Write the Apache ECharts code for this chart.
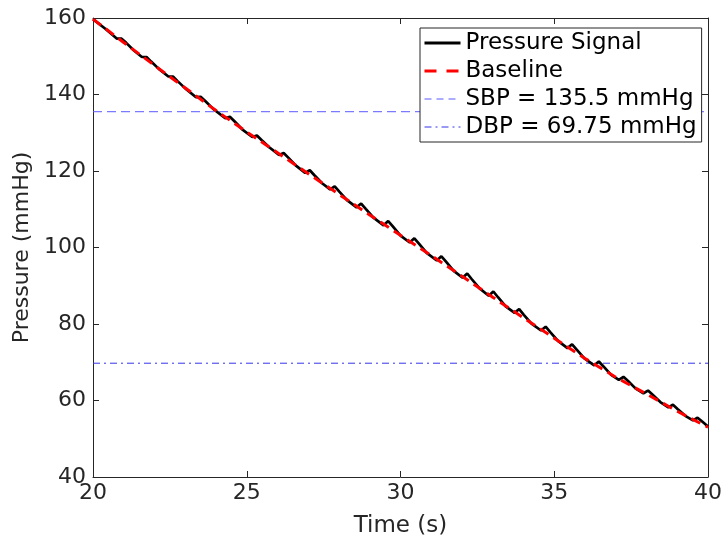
<!DOCTYPE html>
<html><head><meta charset="utf-8">
<script src="https://cdn.jsdelivr.net/npm/echarts@6/dist/echarts.min.js"></script>
<style>html,body{margin:0;padding:0;background:#fff}#c{width:725px;height:545px}</style>
</head><body><div id="c"></div>
<script>
var sigT = [20.0, 20.4, 20.78, 20.93, 21.08, 21.33, 21.59, 21.74, 21.89, 22.14, 22.45, 22.6, 22.75, 23.0, 23.35, 23.5, 23.65, 23.9, 24.3, 24.45, 24.6, 24.85, 25.18, 25.33, 25.48, 25.73, 26.05, 26.2, 26.35, 26.6, 26.9, 27.05, 27.2, 27.45, 27.71, 27.86, 28.01, 28.26, 28.57, 28.72, 28.87, 29.12, 29.45, 29.6, 29.75, 30.0, 30.3, 30.45, 30.6, 30.85, 31.18, 31.33, 31.48, 31.73, 32.02, 32.17, 32.32, 32.57, 32.87, 33.02, 33.17, 33.42, 33.71, 33.86, 34.01, 34.26, 34.57, 34.72, 34.87, 35.12, 35.43, 35.58, 35.73, 35.98, 36.3, 36.45, 36.6, 36.85, 37.1, 37.25, 37.4, 37.65, 37.9, 38.05, 38.2, 38.45, 38.71, 38.86, 39.01, 39.26, 39.51, 39.66, 39.81, 40.0];
var sigP = [159.7, 157.2, 154.6, 154.6, 153.5, 151.5, 149.8, 149.8, 148.6, 146.7, 144.7, 144.7, 143.5, 141.6, 139.3, 139.4, 138.3, 136.3, 133.8, 134.2, 133.0, 130.9, 128.9, 129.3, 128.1, 126.2, 124.2, 124.7, 123.5, 121.4, 119.5, 120.2, 118.9, 116.8, 115.2, 116.0, 114.6, 112.4, 110.5, 111.5, 110.1, 107.8, 105.8, 106.9, 105.5, 103.1, 101.3, 102.4, 101.0, 98.6, 96.6, 97.7, 96.3, 93.9, 92.1, 93.2, 91.7, 89.3, 87.4, 88.5, 87.0, 84.6, 82.9, 83.9, 82.4, 80.1, 78.3, 79.3, 77.9, 75.6, 73.7, 74.7, 73.3, 71.0, 69.2, 70.2, 68.9, 66.7, 65.4, 66.2, 65.1, 63.1, 61.9, 62.6, 61.5, 59.6, 58.2, 58.9, 57.8, 56.0, 54.8, 55.5, 54.5, 53.2];
var baseT = [20, 21, 22, 23, 24, 25, 26, 27, 28, 29, 30, 31, 32, 33, 34, 35, 36, 37, 38, 39, 40];
var baseP = [159.7, 153.6, 147.6, 141.7, 135.8, 130.2, 124.8, 119.3, 113.9, 108.5, 103.2, 97.9, 92.5, 87.0, 81.6, 76.3, 71.0, 66.1, 61.7, 57.2, 53.0];
var sbp = 135.5;
var dbp = 69.75;
var xRange = [20, 40];
var seriesNames = ['Pressure Signal', 'Baseline', 'SBP = 135.5 mmHg', 'DBP = 69.75 mmHg'];
var xName = 'Time (s)';
var yName = 'Pressure (mmHg)';

function pairs(t, p) { return t.map(function (v, i) { return [v, p[i]]; }); }
var FONT = 'DejaVu Sans';
var AX = '#262626';
var chart = echarts.init(document.getElementById('c'), null, {renderer: 'canvas'});
function xAx(pos, labels) {
  return {
    type: 'value', position: pos, min: 20, max: 40, interval: 5,
    name: labels ? xName : '', nameLocation: 'middle', nameGap: 38,
    nameTextStyle: {fontFamily: FONT, fontSize: 23, color: AX},
    axisLine: {show: true, onZero: false, lineStyle: {color: AX, width: 1}},
    axisTick: {show: true, inside: true, length: 6, lineStyle: {color: AX}},
    axisLabel: {show: labels, fontFamily: FONT, fontSize: 22, color: AX, margin: 5},
    splitLine: {show: false}
  };
}
function yAx(pos, labels) {
  return {
    type: 'value', position: pos, min: 40, max: 160, interval: 20,
    name: labels ? yName : '', nameLocation: 'middle', nameGap: 58, nameRotate: 90,
    nameTextStyle: {fontFamily: FONT, fontSize: 22, color: AX},
    axisLine: {show: true, onZero: false, lineStyle: {color: AX, width: 1}},
    axisTick: {show: true, inside: true, length: 6, lineStyle: {color: AX}},
    axisLabel: {show: labels, fontFamily: FONT, fontSize: 22, color: AX, margin: 7},
    splitLine: {show: false}
  };
}
chart.setOption({
  animation: false,
  backgroundColor: '#fff',
  grid: {left: 93, right: 16, top: 18, bottom: 68, containLabel: false},
  xAxis: [xAx('bottom', true), xAx('top', false)],
  yAxis: [yAx('left', true), yAx('right', false)],
  legend: {
    orient: 'vertical', left: 420, top: 28,
    padding: [3, 5, 3, 3], itemGap: 4, itemWidth: 36, itemHeight: 14,
    backgroundColor: '#fff', borderColor: AX, borderWidth: 1,
    itemStyle: {opacity: 0},
    textStyle: {fontFamily: FONT, fontSize: 23, color: '#000', lineHeight: 24},
    data: [
      {name: seriesNames[0], lineStyle: {width: 3}},
      {name: seriesNames[1], lineStyle: {width: 3, type: [12, 10]}},
      {name: seriesNames[2], lineStyle: {width: 1, type: [7, 5]}},
      {name: seriesNames[3], lineStyle: {width: 1, type: [7, 4, 2, 4]}}
    ]
  },
  series: [
    {name: seriesNames[0], type: 'line', symbol: 'none', data: pairs(sigT, sigP),
     lineStyle: {color: '#000', width: 2.7}, itemStyle: {color: '#000'}, z: 2},
    {name: seriesNames[1], type: 'line', symbol: 'none', data: pairs(baseT, baseP),
     lineStyle: {color: '#ff0000', width: 3, type: [10, 6]}, itemStyle: {color: '#ff0000'}, z: 3},
    {name: seriesNames[2], type: 'line', symbol: 'none', data: [[xRange[0], sbp], [xRange[1], sbp]],
     lineStyle: {color: '#5a5aff', width: 1, type: [9, 5]}, itemStyle: {color: '#5a5aff'}, z: 1},
    {name: seriesNames[3], type: 'line', symbol: 'none', data: [[xRange[0], dbp], [xRange[1], dbp]],
     lineStyle: {color: '#3535e8', width: 1, type: [7, 4, 2, 4]}, itemStyle: {color: '#3535e8'}, z: 1}
  ]
});
</script></body></html>
